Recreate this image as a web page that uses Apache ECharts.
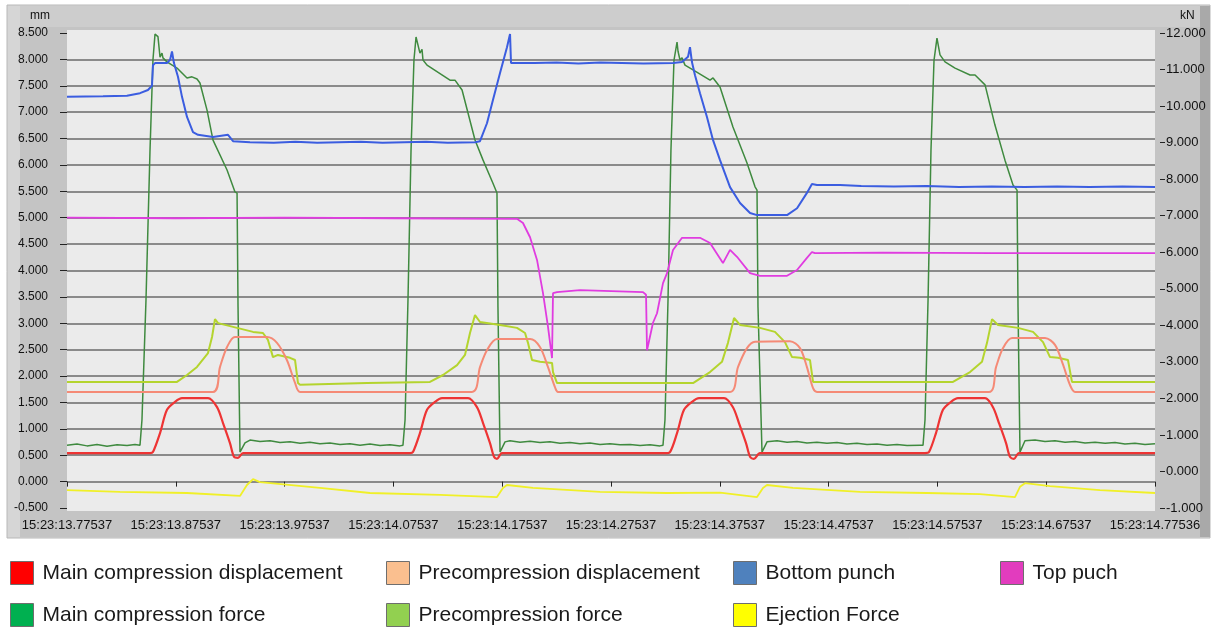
<!DOCTYPE html>
<html>
<head>
<meta charset="utf-8">
<script src="https://cdn.jsdelivr.net/npm/echarts@6.0.0/dist/echarts.min.js"></script>
<style>
  html, body { margin: 0; padding: 0; background: #ffffff; }
  #chart { width: 1215px; height: 629px; }
</style>
</head>
<body>
<div id="chart"></div>
<script>
// Time axis: seconds after 15:23:13.77537, one tick label every 0.1 s
const xTickLabels = [
  '15:23:13.77537', '15:23:13.87537', '15:23:13.97537', '15:23:14.07537',
  '15:23:14.17537', '15:23:14.27537', '15:23:14.37537', '15:23:14.47537',
  '15:23:14.57537', '15:23:14.67537', '15:23:14.77536'
];

// Displacements [s, mm]
const mainCompressionDisplacement = [
  [0, 0.54], [0.0763, 0.54], [0.0790, 0.56], [0.0855, 0.92], [0.0919, 1.36], [0.0993, 1.51], [0.1057, 1.58],
  [0.1296, 1.58], [0.1379, 1.41], [0.1434, 1.11], [0.1498, 0.73], [0.1535, 0.47], [0.1572, 0.45], [0.1618, 0.54],
  [0.3153, 0.54], [0.3180, 0.56], [0.3244, 0.92], [0.3309, 1.36], [0.3382, 1.51], [0.3447, 1.58],
  [0.3686, 1.58], [0.3768, 1.41], [0.3824, 1.11], [0.3888, 0.73], [0.3925, 0.47], [0.3952, 0.43], [0.3998, 0.54],
  [0.5496, 0.54], [0.5542, 0.56], [0.5607, 0.92], [0.5671, 1.36], [0.5744, 1.51], [0.5809, 1.58],
  [0.6039, 1.58], [0.6121, 1.41], [0.6176, 1.11], [0.6241, 0.73], [0.6278, 0.47], [0.6314, 0.43], [0.6369, 0.54],
  [0.7886, 0.54], [0.7923, 0.56], [0.7987, 0.92], [0.8051, 1.36], [0.8125, 1.51], [0.8189, 1.58],
  [0.8438, 1.58], [0.8511, 1.41], [0.8566, 1.11], [0.8631, 0.73], [0.8667, 0.47], [0.8704, 0.43], [0.8750, 0.54],
  [1.0, 0.54]
];

const precompressionDisplacement = [
  [0, 1.70], [0.1342, 1.70], [0.1406, 2.17], [0.1471, 2.55], [0.1544, 2.74], [0.1838, 2.74],
  [0.1930, 2.63], [0.2022, 2.30], [0.2096, 1.87], [0.2142, 1.70],
  [0.3722, 1.70], [0.3796, 2.17], [0.3860, 2.49], [0.3952, 2.70], [0.4256, 2.70],
  [0.4347, 2.55], [0.4421, 2.17], [0.4485, 1.79], [0.4513, 1.70],
  [0.6094, 1.70], [0.6167, 2.17], [0.6250, 2.53], [0.6324, 2.65], [0.6645, 2.66],
  [0.6737, 2.53], [0.6801, 2.17], [0.6857, 1.77], [0.6893, 1.70],
  [0.8474, 1.70], [0.8539, 2.17], [0.8603, 2.53], [0.8686, 2.72], [0.8989, 2.72],
  [0.9081, 2.59], [0.9154, 2.22], [0.9219, 1.83], [0.9265, 1.70], [1.0, 1.70]
];

const bottomPunch = [
  [0, 7.29], [0.0331, 7.30], [0.0551, 7.31], [0.0671, 7.36], [0.0744, 7.42], [0.0781, 7.50],
  [0.0790, 7.89], [0.0809, 7.93], [0.0919, 7.93], [0.0947, 7.99], [0.0965, 8.15], [0.0983, 7.93],
  [0.1020, 7.67], [0.1057, 7.29], [0.1103, 6.91], [0.1158, 6.62], [0.1204, 6.57], [0.1342, 6.53],
  [0.1480, 6.57], [0.1526, 6.45], [0.1682, 6.43], [0.19, 6.42], [0.21, 6.44], [0.23, 6.42],
  [0.25, 6.43], [0.27, 6.44], [0.29, 6.42], [0.31, 6.43], [0.33, 6.44], [0.35, 6.42], [0.3750, 6.43],
  [0.3796, 6.45], [0.3860, 6.79], [0.3915, 7.23], [0.3980, 7.74], [0.4044, 8.23], [0.4072, 8.48],
  [0.4081, 7.93], [0.43, 7.93], [0.45, 7.94], [0.47, 7.92], [0.49, 7.94], [0.51, 7.93], [0.53, 7.92],
  [0.5570, 7.93], [0.5653, 7.95], [0.5708, 8.05], [0.5726, 8.23], [0.5744, 7.95], [0.5772, 7.70],
  [0.5818, 7.36], [0.5882, 6.91], [0.5938, 6.47], [0.6002, 6.09], [0.6094, 5.58], [0.6186, 5.28],
  [0.6278, 5.09], [0.6342, 5.05], [0.6618, 5.05], [0.6710, 5.18], [0.6801, 5.47], [0.6847, 5.64],
  [0.6893, 5.62], [0.7105, 5.62], [0.73, 5.60], [0.76, 5.59], [0.79, 5.60], [0.82, 5.58], [0.85, 5.59],
  [0.88, 5.58], [0.91, 5.59], [0.94, 5.58], [0.97, 5.59], [1.0, 5.58]
];

const topPunch = [
  [0, 5.00], [0.1, 4.99], [0.2, 5.00], [0.3, 4.99], [0.4136, 4.98], [0.4191, 4.90], [0.4256, 4.63],
  [0.4320, 4.20], [0.4375, 3.57], [0.4421, 2.93], [0.4458, 2.34], [0.4467, 3.57], [0.4504, 3.59],
  [0.4715, 3.63], [0.5294, 3.59], [0.5322, 3.54], [0.5331, 2.49], [0.5386, 3.01], [0.5423, 3.19],
  [0.5478, 3.76], [0.5515, 3.95], [0.5570, 4.39], [0.5653, 4.62], [0.5818, 4.62], [0.5910, 4.52],
  [0.6029, 4.14], [0.6094, 4.39], [0.6158, 4.26], [0.6278, 3.95], [0.6369, 3.90], [0.6618, 3.90],
  [0.6710, 4.01], [0.6801, 4.24], [0.6847, 4.35], [0.6875, 4.33], [0.75, 4.34], [0.85, 4.33], [1.0, 4.33]
];

// Forces [s, kN]
const mainCompressionForce = [
  [0, 0.72], [0.0092, 0.75], [0.0184, 0.70], [0.0276, 0.74], [0.0368, 0.69], [0.0460, 0.73],
  [0.0552, 0.71], [0.0625, 0.74], [0.0671, 0.72], [0.0689, 1.41], [0.0726, 4.69], [0.0763, 8.80],
  [0.0790, 11.26], [0.0809, 11.97], [0.0836, 11.90], [0.0855, 11.34], [0.0873, 11.45], [0.0882, 11.32],
  [0.0919, 11.21], [0.1011, 11.04], [0.1103, 10.77], [0.1149, 10.80], [0.1195, 10.74], [0.1222, 10.63],
  [0.1287, 9.89], [0.1342, 9.07], [0.1471, 8.25], [0.1544, 7.65], [0.1563, 7.62], [0.1572, 4.50],
  [0.1590, 0.53], [0.1636, 0.78], [0.1682, 0.86], [0.1774, 0.82], [0.1866, 0.84], [0.1958, 0.79],
  [0.2050, 0.81], [0.2142, 0.77], [0.2233, 0.80], [0.2325, 0.76], [0.2417, 0.78], [0.2509, 0.74],
  [0.2601, 0.76], [0.2693, 0.72], [0.2785, 0.75], [0.2877, 0.71], [0.2969, 0.73], [0.3061, 0.70],
  [0.3088, 0.72], [0.3107, 1.41], [0.3134, 4.69], [0.3162, 8.80], [0.3189, 11.26], [0.3208, 11.89],
  [0.3217, 11.86], [0.3244, 11.45], [0.3263, 11.55], [0.3272, 11.26], [0.3309, 11.12], [0.3520, 10.71],
  [0.3566, 10.71], [0.3631, 10.44], [0.3750, 9.07], [0.3824, 8.52], [0.3915, 7.89], [0.3952, 7.62],
  [0.3961, 4.50], [0.3980, 0.53], [0.4026, 0.81], [0.4072, 0.84], [0.4164, 0.80], [0.4256, 0.83],
  [0.4347, 0.79], [0.4439, 0.81], [0.4531, 0.77], [0.4623, 0.79], [0.4715, 0.76], [0.4807, 0.78],
  [0.4899, 0.74], [0.4991, 0.76], [0.5083, 0.73], [0.5175, 0.74], [0.5267, 0.71], [0.5359, 0.73],
  [0.5450, 0.70], [0.5478, 0.72], [0.5496, 1.41], [0.5524, 4.69], [0.5551, 8.80], [0.5579, 11.26],
  [0.5607, 11.75], [0.5616, 11.50], [0.5634, 11.26], [0.5653, 11.32], [0.5680, 11.12], [0.5754, 10.99],
  [0.5910, 10.71], [0.5938, 10.77], [0.6002, 10.52], [0.6121, 9.43], [0.6250, 8.44], [0.6324, 7.79],
  [0.6342, 7.70], [0.6351, 4.50], [0.6388, 0.53], [0.6434, 0.81], [0.6526, 0.84], [0.6618, 0.80],
  [0.6710, 0.82], [0.6801, 0.78], [0.6893, 0.80], [0.6985, 0.77], [0.7077, 0.79], [0.7169, 0.75],
  [0.7261, 0.77], [0.7353, 0.74], [0.7445, 0.75], [0.7537, 0.72], [0.7629, 0.74], [0.7721, 0.71],
  [0.7840, 0.72], [0.7868, 0.72], [0.7886, 1.41], [0.7914, 4.69], [0.7941, 8.80], [0.7969, 11.26],
  [0.7996, 11.86], [0.8024, 11.40], [0.8070, 11.21], [0.8162, 11.04], [0.8300, 10.85], [0.8346, 10.85],
  [0.8438, 10.58], [0.8529, 9.48], [0.8621, 8.52], [0.8695, 7.84], [0.8732, 7.70], [0.8741, 4.50],
  [0.8759, 0.53], [0.8805, 0.84], [0.8897, 0.86], [0.8989, 0.82], [0.9081, 0.84], [0.9173, 0.80],
  [0.9265, 0.82], [0.9357, 0.78], [0.9449, 0.80], [0.9541, 0.77], [0.9632, 0.79], [0.9724, 0.75],
  [0.9816, 0.77], [0.9908, 0.74], [1.0, 0.76]
];

const precompressionForce = [
  [0, 2.45], [0.1011, 2.45], [0.1103, 2.64], [0.1195, 2.86], [0.1296, 3.24], [0.1333, 3.68],
  [0.1360, 4.17], [0.1388, 4.06], [0.1563, 3.93], [0.1710, 3.82], [0.1801, 3.79], [0.1847, 3.60],
  [0.1893, 3.13], [0.1939, 3.19], [0.2050, 3.11], [0.2096, 3.05], [0.2123, 2.42], [0.2142, 2.37],
  [0.2757, 2.42], [0.3336, 2.45], [0.3456, 2.64], [0.3585, 2.91], [0.3658, 3.19], [0.3704, 3.79],
  [0.3750, 4.28], [0.3796, 4.09], [0.3980, 4.01], [0.4136, 3.93], [0.4210, 3.79], [0.4237, 3.52],
  [0.4274, 3.05], [0.4347, 3.00], [0.4458, 2.97], [0.4467, 2.72], [0.4504, 2.42], [0.4835, 2.42],
  [0.5754, 2.42], [0.5910, 2.72], [0.6020, 3.00], [0.6075, 3.52], [0.6131, 4.20], [0.6186, 4.01],
  [0.6369, 3.93], [0.6507, 3.82], [0.6599, 3.54], [0.6664, 3.13], [0.6737, 3.11], [0.6829, 3.05],
  [0.6857, 2.45], [0.8143, 2.45], [0.8300, 2.72], [0.8410, 3.00], [0.8456, 3.52], [0.8502, 4.17],
  [0.8557, 4.01], [0.8741, 3.93], [0.8879, 3.82], [0.8971, 3.54], [0.9035, 3.13], [0.9108, 3.11],
  [0.9200, 3.05], [0.9237, 2.45], [1.0, 2.45]
];

const ejectionForce = [
  [0, -0.51], [0.0487, -0.56], [0.1103, -0.59], [0.1590, -0.67], [0.1654, -0.37], [0.1710, -0.21],
  [0.1774, -0.29], [0.2325, -0.45], [0.2785, -0.59], [0.3428, -0.64], [0.3952, -0.70], [0.4007, -0.45],
  [0.4044, -0.37], [0.4283, -0.45], [0.4899, -0.56], [0.5515, -0.59], [0.6002, -0.58], [0.6342, -0.70],
  [0.6397, -0.45], [0.6434, -0.37], [0.6673, -0.45], [0.7289, -0.56], [0.7904, -0.59], [0.8392, -0.62],
  [0.8713, -0.70], [0.8759, -0.42], [0.8805, -0.32], [0.9035, -0.40], [0.9494, -0.51], [1.0, -0.59]
];

const seriesNames = [
  'Main compression displacement', 'Precompression displacement', 'Bottom punch', 'Top puch',
  'Main compression force', 'Precompression force', 'Ejection Force'
];
const lineColors = ['#ee3434', '#f58a76', '#3b5de0', '#e03ce0', '#3f8a3f', '#b4d42e', '#f0f028'];
const legendColors = ['#ff0000', '#fabf8f', '#4f81bd', '#e23cbe', '#00b050', '#92d050', '#ffff00'];

const chart = echarts.init(document.getElementById('chart'), null, { renderer: 'canvas' });

function lineSeries(idx, data, yAxisIndex, width, smooth) {
  return {
    name: seriesNames[idx],
    type: 'line',
    yAxisIndex: yAxisIndex,
    data: data,
    showSymbol: false,
    symbol: 'none',
    smooth: smooth || false,
    z: 5,
    color: lineColors[idx],
    lineStyle: { color: lineColors[idx], width: width },
    emphasis: { disabled: true }
  };
}

// One legend entry per block so each can sit on its own column/row
function legendItem(name, left, top) {
  const i = seriesNames.indexOf(name);
  return {
    left: left,
    top: top,
    padding: 0,
    itemWidth: 23,
    itemHeight: 23,
    icon: 'rect',
    selectedMode: false,
    textStyle: { fontSize: 21, color: '#1a1a1a', fontFamily: 'Liberation Sans, Arial, sans-serif', padding: [0, 0, 0, 4] },
    data: [{ name: name, itemStyle: { color: legendColors[i], borderColor: '#6e6e6e', borderWidth: 1 } }]
  };
}

const axisFont = { fontFamily: 'Liberation Sans, Arial, sans-serif', color: '#111111' };

const option = {
  animation: false,
  backgroundColor: '#ffffff',
  grid: { left: 67, right: 60, top: 33, bottom: 121, show: false },
  graphic: [
    { type: 'rect', z: -20, shape: { x: 7, y: 5, width: 1203, height: 533 }, style: { fill: '#d6d6d6', stroke: '#b8b8b8', lineWidth: 1 } },
    { type: 'rect', z: -19, shape: { x: 20, y: 6, width: 1180, height: 531 }, style: { fill: '#c4c4c4' } },
    { type: 'rect', z: -18, shape: { x: 20, y: 6, width: 1180, height: 21 }, style: { fill: '#cdcdcd' } },
    { type: 'rect', z: -18, shape: { x: 1200, y: 6, width: 10, height: 531 }, style: { fill: '#a9a9a9' } },
    { type: 'rect', z: -17, shape: { x: 67, y: 30, width: 1088, height: 481 }, style: { fill: '#ebebeb' } },
    { type: 'text', z: 10, left: 30, top: 10, style: { text: 'mm', fontSize: 12, fill: '#111', fontFamily: 'Liberation Sans, Arial, sans-serif' } },
    { type: 'text', z: 10, left: 1180, top: 10, style: { text: 'kN', fontSize: 12, fill: '#111', fontFamily: 'Liberation Sans, Arial, sans-serif' } }
  ],
  legend: [
    legendItem('Main compression displacement', 10, 561),
    legendItem('Main compression force', 10, 603),
    legendItem('Precompression displacement', 386, 561),
    legendItem('Precompression force', 386, 603),
    legendItem('Bottom punch', 733, 561),
    legendItem('Ejection Force', 733, 603),
    legendItem('Top puch', 1000, 561)
  ],
  xAxis: {
    type: 'value',
    min: 0,
    max: 1,
    interval: 0.1,
    offset: 5,
    axisLine: { show: false },
    axisTick: { show: true, length: 5, lineStyle: { color: '#222', width: 1 } },
    axisLabel: Object.assign({ fontSize: 13, margin: 6, showMinLabel: true, showMaxLabel: true,
      formatter: v => xTickLabels[Math.round(v * 10)] }, axisFont),
    splitLine: { show: false }
  },
  yAxis: [
    {
      type: 'value',
      position: 'left',
      min: -0.5,
      max: 8.5,
      interval: 0.5,
      offset: 10,
      axisLine: { show: false },
      axisTick: { show: true, length: 7, lineStyle: { color: '#222', width: 1 } },
      axisLabel: Object.assign({ fontSize: 12, margin: 9, formatter: v => v.toFixed(3) }, axisFont),
      splitLine: { show: true, showMinLine: false, showMaxLine: false, lineStyle: { color: '#8a8a8a', width: 2 } }
    },
    {
      type: 'value',
      position: 'right',
      min: -1,
      max: 12,
      interval: 1,
      offset: 5,
      axisLine: { show: false },
      axisTick: { show: true, length: 5, lineStyle: { color: '#222', width: 1 } },
      axisLabel: Object.assign({ fontSize: 13, margin: 6, formatter: v => v.toFixed(3) }, axisFont),
      splitLine: { show: false }
    }
  ],
  series: [
    lineSeries(4, mainCompressionForce, 1, 1.5),
    lineSeries(6, ejectionForce, 1, 1.8),
    lineSeries(5, precompressionForce, 1, 2),
    lineSeries(1, precompressionDisplacement, 0, 2, 0.3),
    lineSeries(0, mainCompressionDisplacement, 0, 2.2, 0.3),
    lineSeries(2, bottomPunch, 0, 2),
    lineSeries(3, topPunch, 0, 1.8)
  ]
};

chart.setOption(option);
</script>
</body>
</html>
